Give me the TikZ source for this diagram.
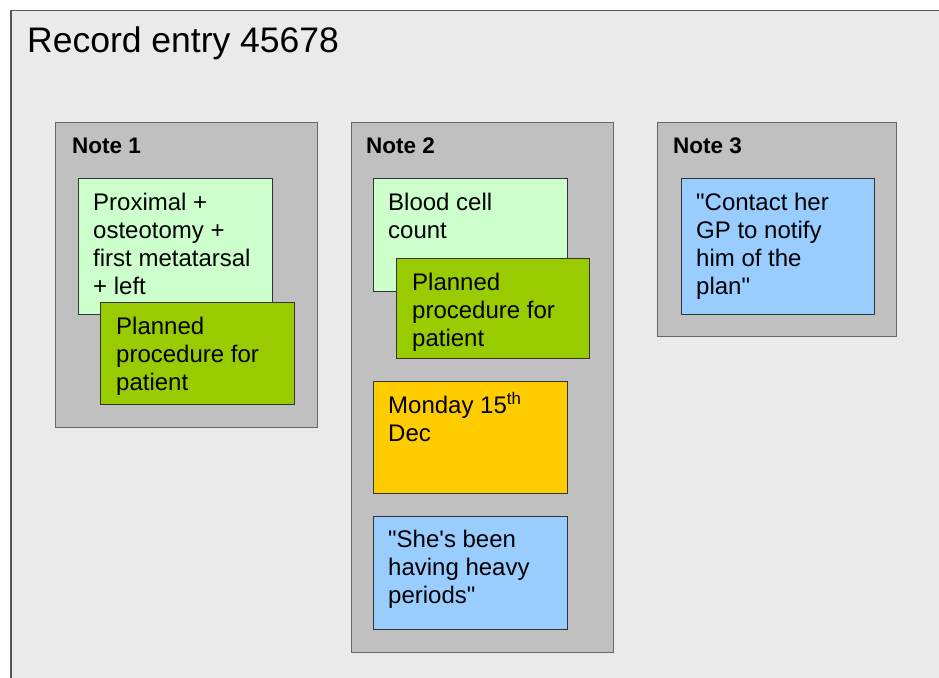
\documentclass[tikz,border=0pt]{standalone}
\usepackage{fontspec}
\setmainfont{Liberation Sans}[Ligatures=TeXOff]
\usetikzlibrary{positioning}

\definecolor{recordbg}{HTML}{EAEAEA}
\definecolor{notebg}{HTML}{C0C0C0}
\definecolor{paleg}{HTML}{CCFFCC}
\definecolor{leafg}{HTML}{99CC00}
\definecolor{dateo}{HTML}{FFCC00}
\definecolor{quoteb}{HTML}{99CCFF}
\definecolor{edgegr}{HTML}{555555}

% first line height of the card texts
\newcommand{\lnstrut}{\rule{0pt}{22pt}}

\begin{document}
\begin{tikzpicture}
          [x=1pt,y=-1pt,
          frame/.style={draw=edgegr,line width=1.5pt,fill=recordbg,anchor=north west,inner sep=0pt,minimum width=960pt,minimum height=700pt},
          note/.style={draw=edgegr!90,line width=1.3pt,fill=notebg,anchor=north west,inner sep=0pt,minimum width=262pt},
          card/.style={draw=black!80,line width=1pt,anchor=north west,inner sep=0pt,minimum width=194pt},
          title/.style={anchor=north west,inner sep=0pt,font=\fontsize{35.5}{40}\selectfont,execute at begin node=\rule{0pt}{30pt}},
          head/.style={anchor=north west,inner sep=0pt,font=\fontsize{22.5}{26}\bfseries\selectfont,execute at begin node=\rule{0pt}{20pt}},
          txt/.style={anchor=north west,inner sep=0pt,align=left,font=\fontsize{24}{28}\selectfont}]

            \path [use as bounding box,fill=white] (0,0) rectangle (939,677);
            \clip (0,0) rectangle (939,677);

            \node (record) [frame] at (10,10) {};
            \node (rtitle) [title,below right=12pt and 17pt of record.north west] {Record entry 45678};

            % note 1
            \node (n1) [note,minimum height=305pt] at (55,122) {};
            \node (n1h) [head,below right=11pt and 17pt of n1.north west] {Note 1};
            \node (n1a) [card,fill=paleg,minimum height=136pt] at (78,178) {};
            \node (n1at) [txt,below right=10pt and 15pt of n1a.north west] {\lnstrut Proximal +\\osteotomy +\\first metatarsal\\+ left};
            \node (n1b) [card,fill=leafg,minimum height=102pt] at (100,302) {};
            \node (n1bt) [txt,below right=10pt and 16pt of n1b.north west] {\lnstrut Planned\\procedure for\\patient};

            % note 2
            \node (n2) [note,minimum height=530pt] at (351,122) {};
            \node (n2h) [head,below right=11pt and 15pt of n2.north west] {Note 2};
            \node (n2a) [card,fill=paleg,minimum height=113pt] at (373,178) {};
            \node (n2at) [txt,below right=10pt and 15pt of n2a.north west] {\lnstrut Blood cell\\count};
            \node (n2b) [card,fill=leafg,minimum width=193pt,minimum height=100pt] at (396,258) {};
            \node (n2bt) [txt,below right=10pt and 16pt of n2b.north west] {\lnstrut Planned\\procedure for\\patient};
            \node (n2c) [card,fill=dateo,minimum height=112pt] at (373,381) {};
            \node (n2ct) [txt,below right=10pt and 15pt of n2c.north west] {\lnstrut Monday 15\textsuperscript{th}\\Dec};
            \node (n2d) [card,fill=quoteb,minimum height=113pt] at (373,516) {};
            \node (n2dt) [txt,below right=9pt and 15pt of n2d.north west] {\lnstrut "She's been\\having heavy\\periods"};

            % note 3
            \node (n3) [note,minimum width=239pt,minimum height=214pt] at (657,122) {};
            \node (n3h) [head,below right=11pt and 16pt of n3.north west] {Note 3};
            \node (n3a) [card,fill=quoteb,minimum width=193pt,minimum height=136pt] at (681,178) {};
            \node (n3at) [txt,below right=10pt and 15pt of n3a.north west] {\lnstrut "Contact her\\GP to notify\\him of the\\plan"};

        \end{tikzpicture}
\end{document}
